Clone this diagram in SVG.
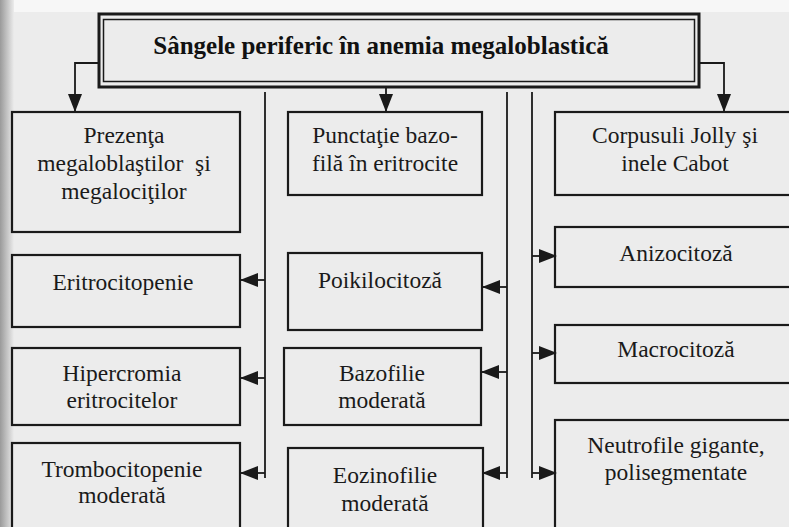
<svg xmlns="http://www.w3.org/2000/svg" width="789" height="527" viewBox="0 0 789 527">
  <defs>
    <style>
      .box { fill: none; stroke: #1a1a1a; stroke-width: 2.2; }
      .lbl { font-family: "Liberation Serif", "Times New Roman", serif; font-size: 23.5px; fill: #1a1a1a; text-anchor: middle; }
      .title { font-family: "Liberation Serif", "Times New Roman", serif; font-size: 25px; font-weight: bold; fill: #111; text-anchor: middle; }
      .wire { fill: none; stroke: #1a1a1a; stroke-width: 1.8; }
    </style>
    <marker id="tip" viewBox="0 0 18 14" refX="17" refY="7" markerWidth="18" markerHeight="14" markerUnits="userSpaceOnUse" orient="auto">
      <path d="M0,0 L18,7 L0,14 Z" fill="#1a1a1a"/>
    </marker>
    <linearGradient id="edge" x1="0" y1="0" x2="1" y2="0">
      <stop offset="0" stop-color="#9a9a9a"/>
      <stop offset="1" stop-color="#ececec"/>
    </linearGradient>
  </defs>

  <!-- paper -->
  <rect x="0" y="0" width="789" height="527" fill="#ececec"/>
  <rect x="0" y="0" width="789" height="12" fill="#f7f7f7"/>
  <rect x="0" y="0" width="14" height="527" fill="url(#edge)"/>

  <!-- connectors -->
  <g id="connectors">
    <path class="wire" d="M98,63 H75 V111" marker-end="url(#tip)"/>
    <path class="wire" d="M386,88 V111" marker-end="url(#tip)"/>
    <path class="wire" d="M699,63 H724 V111" marker-end="url(#tip)"/>

    <path class="wire" d="M265,92 V478"/>
    <path class="wire" d="M265,280 H241" marker-end="url(#tip)"/>
    <path class="wire" d="M265,378 H241" marker-end="url(#tip)"/>
    <path class="wire" d="M265,473 H241" marker-end="url(#tip)"/>

    <path class="wire" d="M507,92 V478"/>
    <path class="wire" d="M507,287 H483" marker-end="url(#tip)"/>
    <path class="wire" d="M507,372 H482" marker-end="url(#tip)"/>
    <path class="wire" d="M507,473 H483" marker-end="url(#tip)"/>

    <path class="wire" d="M532,92 V478"/>
    <path class="wire" d="M532,256 H556" marker-end="url(#tip)"/>
    <path class="wire" d="M532,353 H556" marker-end="url(#tip)"/>
    <path class="wire" d="M532,473 H556" marker-end="url(#tip)"/>
  </g>

  <!-- title -->
  <g id="title">
    <rect x="99" y="14" width="600" height="73" fill="none" stroke="#1a1a1a" stroke-width="3"/>
    <rect x="103.5" y="19.5" width="591" height="62" fill="none" stroke="#1a1a1a" stroke-width="1.5"/>
    <text class="title" x="381" y="54">Sângele periferic în anemia megaloblastică</text>
  </g>

  <!-- left column -->
  <g id="megaloblasti">
    <rect class="box" x="12" y="112" width="228" height="120"/>
    <text class="lbl" x="124" y="143">Prezenţa</text>
    <text class="lbl" x="124" y="171" xml:space="preserve">megaloblaştilor  şi</text>
    <text class="lbl" x="124" y="199">megalociţilor</text>
  </g>
  <g id="eritrocitopenie">
    <rect class="box" x="12" y="255" width="228" height="72"/>
    <text class="lbl" x="123" y="290">Eritrocitopenie</text>
  </g>
  <g id="hipercromia">
    <rect class="box" x="12" y="348" width="228" height="77"/>
    <text class="lbl" x="122" y="381">Hipercromia</text>
    <text class="lbl" x="122" y="408">eritrocitelor</text>
  </g>
  <g id="trombocitopenie">
    <rect class="box" x="12" y="443" width="228" height="100"/>
    <text class="lbl" x="122" y="477">Trombocitopenie</text>
    <text class="lbl" x="122" y="503">moderată</text>
  </g>

  <!-- middle column -->
  <g id="punctatie">
    <rect class="box" x="288" y="112" width="194" height="83"/>
    <text class="lbl" x="385" y="143">Punctaţie bazo-</text>
    <text class="lbl" x="385" y="171">filă în eritrocite</text>
  </g>
  <g id="poikilocitoza">
    <rect class="box" x="288" y="253" width="194" height="77"/>
    <text class="lbl" x="380" y="288">Poikilocitoză</text>
  </g>
  <g id="bazofilie">
    <rect class="box" x="284" y="348" width="197" height="77"/>
    <text class="lbl" x="382" y="381">Bazofilie</text>
    <text class="lbl" x="382" y="408">moderată</text>
  </g>
  <g id="eozinofilie">
    <rect class="box" x="288" y="448" width="195" height="100"/>
    <text class="lbl" x="385" y="483">Eozinofilie</text>
    <text class="lbl" x="385" y="511">moderată</text>
  </g>

  <!-- right column -->
  <g id="jolly">
    <rect class="box" x="555" y="112" width="250" height="83"/>
    <text class="lbl" x="675" y="143">Corpusuli Jolly şi</text>
    <text class="lbl" x="675" y="171">inele Cabot</text>
  </g>
  <g id="anizocitoza">
    <rect class="box" x="555" y="227" width="250" height="60"/>
    <text class="lbl" x="676" y="261">Anizocitoză</text>
  </g>
  <g id="macrocitoza">
    <rect class="box" x="555" y="325" width="250" height="58"/>
    <text class="lbl" x="676" y="357">Macrocitoză</text>
  </g>
  <g id="neutrofile">
    <rect class="box" x="555" y="420" width="250" height="130"/>
    <text class="lbl" x="676" y="453">Neutrofile gigante,</text>
    <text class="lbl" x="676" y="480">polisegmentate</text>
  </g>
</svg>
